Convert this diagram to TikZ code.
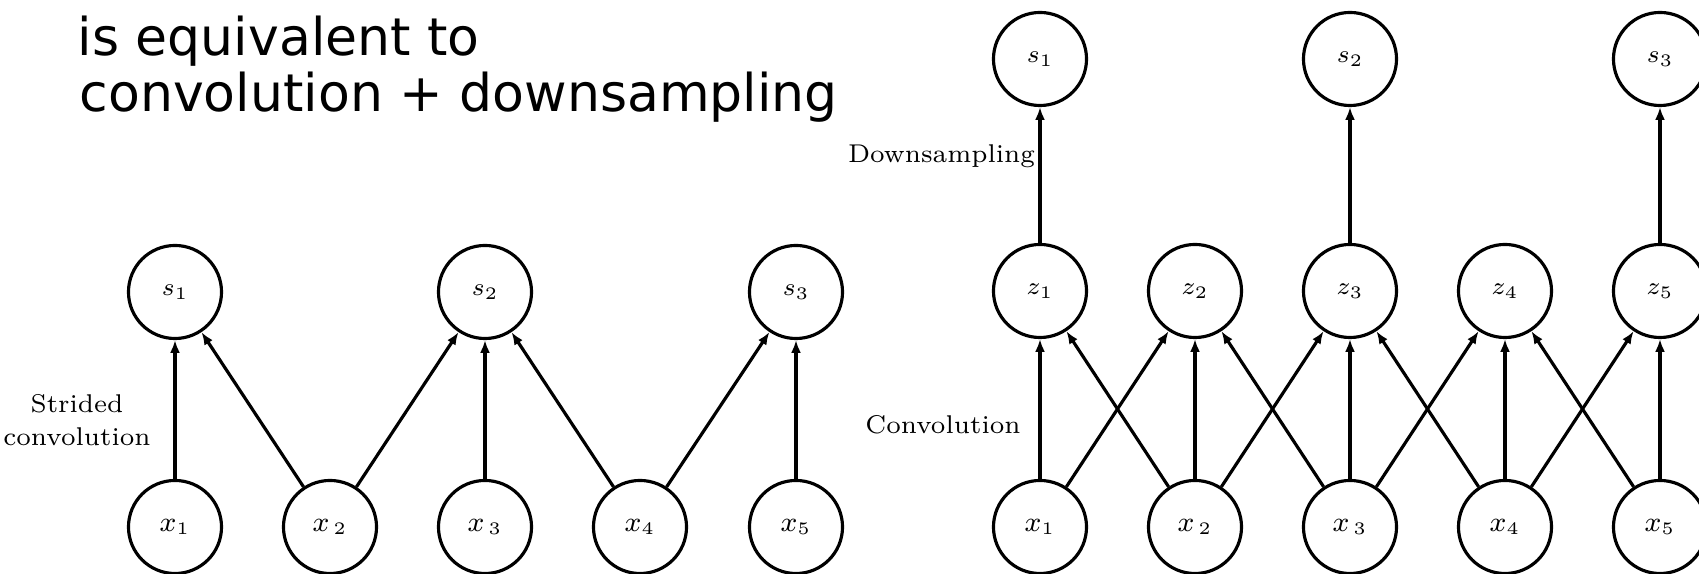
\documentclass[tikz,border=0pt]{standalone}
\usepackage{fontspec}
\newfontfamily\titlefont{DejaVu Sans}
\usetikzlibrary{arrows.meta}
\begin{document}
\begin{tikzpicture}[x=0.01cm,y=-0.01cm,
  unit/.style={circle,draw,line width=0.9pt,minimum size=0.93cm,inner sep=0pt,font=\fontsize{7}{8}\selectfont},
  inunit/.style={unit,font=\fontsize{7.6}{9}\selectfont},
  conn/.style={line width=0.9pt,-{Latex[length=3.6pt,width=2.8pt]}},
  lbl/.style={font=\fontsize{7.3}{9.4}\selectfont,align=center,inner sep=0pt},
  ttl/.style={font=\titlefont\fontsize{14.8}{17}\selectfont,inner sep=0pt,anchor=base west}]
\fill[white] (0,0) rectangle (1699,574);
\useasboundingbox (0,0) rectangle (1699,574);
% title
\node[ttl] (t1) at (77,55.7) {is equivalent to};
\node[ttl] (t2) at (79,112) {convolution + downsampling};
% left diagram
\node[unit] (sL1) at (175,292) {$s_1$};
\node[unit] (sL2) at (485,292) {$s_2$};
\node[unit] (sL3) at (796,292) {$s_3$};
\node[inunit] (xL1) at (175,527) {$x_1$};
\node[inunit] (xL2) at (330,527) {$x_{\,2}$};
\node[inunit] (xL3) at (485,527) {$x_{\,3}$};
\node[inunit] (xL4) at (640,527) {$x_4$};
\node[inunit] (xL5) at (796,527) {$x_5$};
\node[lbl] (lstr) at (77,420.4) {Strided\\convolution};
\draw[conn] (xL1) -- (sL1);
\draw[conn] (xL2) -- (sL1);
\draw[conn] (xL2) -- (sL2);
\draw[conn] (xL3) -- (sL2);
\draw[conn] (xL4) -- (sL2);
\draw[conn] (xL4) -- (sL3);
\draw[conn] (xL5) -- (sL3);
% right diagram
\node[unit] (sR1) at (1040,59) {$s_1$};
\node[unit] (sR2) at (1350,59) {$s_2$};
\node[unit] (sR3) at (1660,59) {$s_3$};
\foreach \i in {1,...,5}{
  \node[unit] (zR\i) at ({1040+155*(\i-1)},291) {$z_\i$};
}
\node[inunit] (xR1) at (1040,527) {$x_1$};
\node[inunit] (xR2) at (1195,527) {$x_{\,2}$};
\node[inunit] (xR3) at (1350,527) {$x_{\,3}$};
\node[inunit] (xR4) at (1505,527) {$x_4$};
\node[inunit] (xR5) at (1660,527) {$x_5$};
\node[lbl,anchor=base] (ldown) at (941.5,163) {Downsampling};
\node[lbl,anchor=base] (lconv) at (943,433.3) {Convolution};
\draw[conn] (zR1) -- (sR1);
\draw[conn] (zR3) -- (sR2);
\draw[conn] (zR5) -- (sR3);
\draw[conn] (xR1) -- (zR1);
\draw[conn] (xR1) -- (zR2);
\draw[conn] (xR2) -- (zR1);
\draw[conn] (xR2) -- (zR2);
\draw[conn] (xR2) -- (zR3);
\draw[conn] (xR3) -- (zR2);
\draw[conn] (xR3) -- (zR3);
\draw[conn] (xR3) -- (zR4);
\draw[conn] (xR4) -- (zR3);
\draw[conn] (xR4) -- (zR4);
\draw[conn] (xR4) -- (zR5);
\draw[conn] (xR5) -- (zR4);
\draw[conn] (xR5) -- (zR5);
\end{tikzpicture}
\end{document}
